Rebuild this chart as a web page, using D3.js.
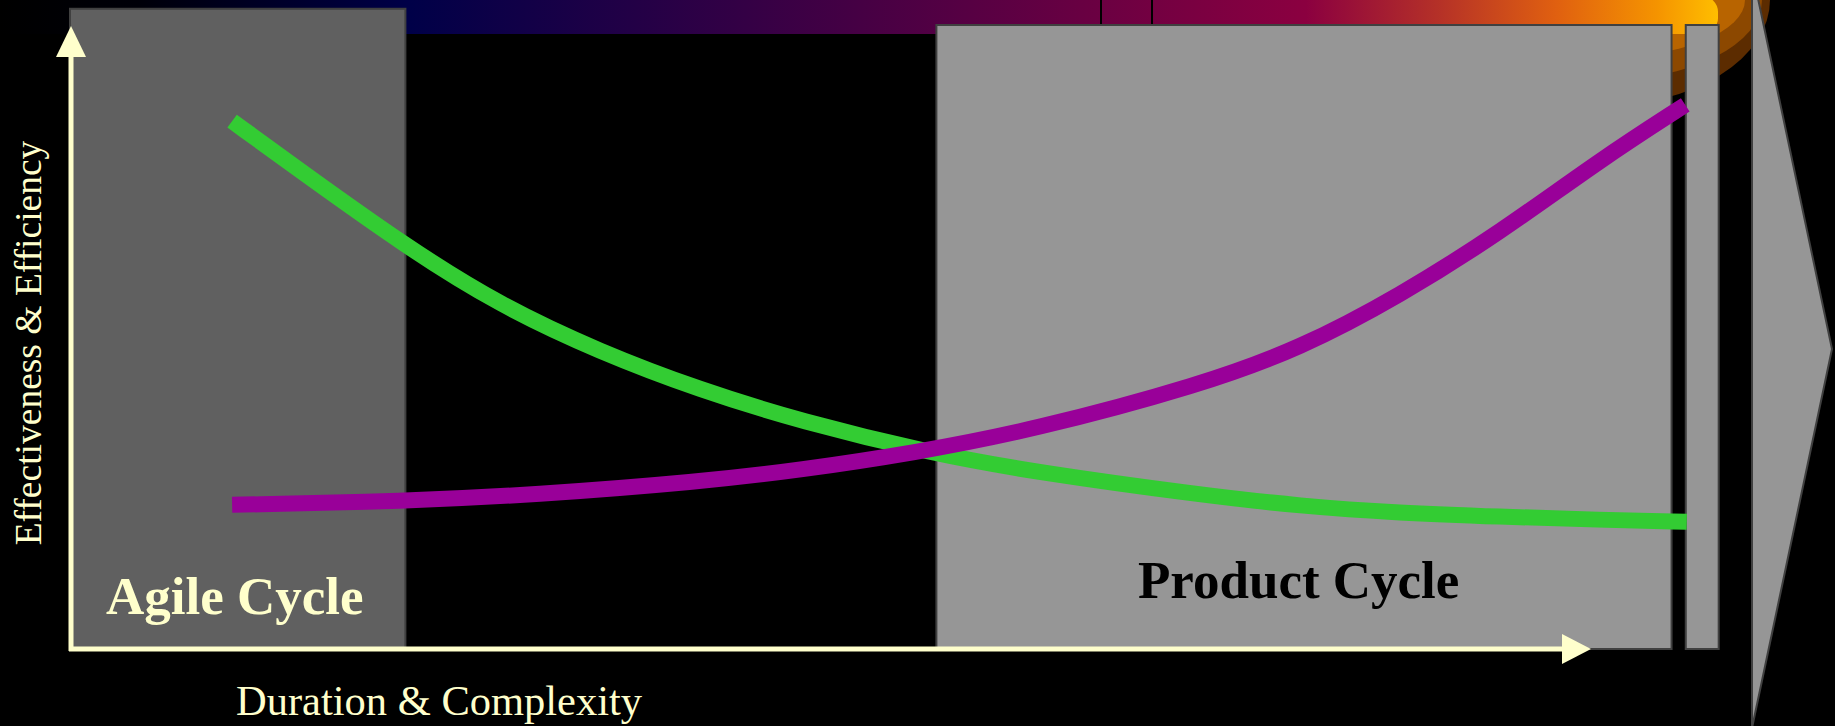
<!DOCTYPE html>
<html>
<head>
<meta charset="utf-8">
<script src="https://cdn.jsdelivr.net/npm/d3@7"></script>
<style>
  body { margin: 0; background: #000; }
  svg { display: block; }
</style>
</head>
<body>
<svg id="chart" width="1835" height="726"></svg>
<script>
// x = Duration & Complexity, y = Effectiveness & Efficiency (0..100 each)
const agileX = [10.6, 15.1, 22.1, 28.2, 34.8, 41.4, 48.0, 56.7, 63.3, 74.3, 80.9, 87.4, 94.0, 100.6, 106.3];
const agileY = [84.6, 76.6, 64.4, 55.1, 47.6, 41.5, 36.5, 31.3, 28.4, 24.7, 22.9, 21.8, 21.2, 20.7, 20.4];

const productX = [10.6, 22.1, 30.4, 41.4, 48.0, 55.4, 63.3, 74.3, 80.9, 87.4, 94.0, 100.6, 106.2];
const productY = [23.1, 23.7, 24.7, 26.8, 28.7, 31.4, 35.1, 42.3, 48.2, 56.6, 66.7, 78.4, 87.2];

// phases shown as shaded blocks
const phaseNames = ["Agile Cycle", "Product Cycle", ""];
const phaseStart = [0, 57.0, 106.3];
const phaseEnd = [22.0, 105.3, 108.4];
const phaseTop = [102.6, 100, 100];

const xTitle = "Duration & Complexity";
const yTitle = "Effectiveness & Efficiency";

function drawChart() {
    const svg = d3.select("#chart");
    const cream = "#FFFFCC";
    const serif = "'Liberation Serif', 'Times New Roman', serif";

    const scX = d3.scaleLinear().domain([0, 100]).range([71, 1591]);
    const scY = d3.scaleLinear().domain([0, 100]).range([649, 25]);

    const defs = svg.append("defs");
    const grad = defs.append("linearGradient")
        .attr("id", "barGrad")
        .attr("gradientUnits", "userSpaceOnUse")
        .attr("x1", 0).attr("x2", 1718).attr("y1", 0).attr("y2", 0);
    [[0, "#000000"], [0.08, "#000008"], [0.239, "#000048"], [0.76, "#8b0040"],
     [0.836, "#b43028"], [0.906, "#e06010"], [0.965, "#f59400"], [1, "#ffbe00"]]
        .forEach(s => grad.append("stop").attr("offset", s[0]).attr("stop-color", s[1]));

    // decorative backdrop: the disc behind the bar end
    const deco = svg.append("g");
    [["#5c2c00", 170, 106], ["#8c4800", 162, 81], ["#b86400", 145, 58]].forEach(e => {
        deco.append("ellipse")
            .attr("cx", 1600).attr("cy", 0)
            .attr("rx", e[1]).attr("ry", e[2])
            .style("fill", e[0]);
    });
    deco.append("rect")
        .attr("x", -20).attr("y", -4)
        .attr("width", 1738).attr("height", 38)
        .attr("rx", 16)
        .style("fill", "url(#barGrad)");
    [1101, 1152].forEach(x => {
        deco.append("line")
            .attr("x1", x).attr("x2", x).attr("y1", 0).attr("y2", 25)
            .style("stroke", "#000").style("stroke-width", 2);
    });

    // phase blocks
    const phases = phaseNames.map((n, i) => ({
        name: n, x0: phaseStart[i], x1: phaseEnd[i], top: phaseTop[i]
    }));
    svg.selectAll(".phase")
        .data(phases)
        .enter()
        .append("rect")
        .attr("class", "phase")
        .attr("x", d => scX(d.x0) - 1)
        .attr("y", d => scY(d.top))
        .attr("width", d => scX(d.x1) - scX(d.x0) + 1)
        .attr("height", d => scY(0) - scY(d.top))
        .style("fill", (d, i) => i === 0 ? "#606060" : "#969696")
        .style("stroke", "#404040")
        .style("stroke-width", 2);

    // big arrow on the right
    svg.append("polygon")
        .attr("points", "1752,-30 1832,349 1752,728")
        .style("fill", "#969696")
        .style("stroke", "#404040")
        .style("stroke-width", 2);

    // axes with arrow heads
    const x0 = scX(0), y0 = scY(0);
    const xEnd = scX(100), yEnd = scY(100) + 1;
    const axes = svg.append("g").style("fill", cream).style("stroke", cream);
    axes.append("line")
        .attr("x1", x0).attr("x2", x0).attr("y1", y0 + 2).attr("y2", yEnd + 28)
        .style("stroke-width", 5);
    axes.append("polygon")
        .attr("points", `${x0},${yEnd} ${x0 - 15},${yEnd + 31} ${x0 + 15},${yEnd + 31}`)
        .style("stroke", "none");
    axes.append("line")
        .attr("x1", x0 - 2).attr("x2", xEnd - 26).attr("y1", y0).attr("y2", y0)
        .style("stroke-width", 5);
    axes.append("polygon")
        .attr("points", `${xEnd},${y0} ${xEnd - 29},${y0 - 15} ${xEnd - 29},${y0 + 15}`)
        .style("stroke", "none");

    // curves
    const line = d3.line()
        .x(d => scX(d[0]))
        .y(d => scY(d[1]))
        .curve(d3.curveBasis);
    const series = [
        { pts: d3.zip(agileX, agileY), color: "#33CC33" },
        { pts: d3.zip(productX, productY), color: "#990099" }
    ];
    svg.selectAll(".curve")
        .data(series)
        .enter()
        .append("path")
        .attr("class", "curve")
        .attr("d", d => line(d.pts))
        .style("fill", "none")
        .style("stroke", d => d.color)
        .style("stroke-width", 16)
        .style("stroke-linecap", "butt");

    // texts
    svg.append("text")
        .attr("x", 106).attr("y", 614)
        .style("font-family", serif).style("font-weight", "bold")
        .style("font-size", "53px").style("fill", cream)
        .text(phaseNames[0]);
    svg.append("text")
        .attr("x", 1138).attr("y", 598)
        .style("font-family", serif).style("font-weight", "bold")
        .style("font-size", "53px").style("fill", "#000")
        .text(phaseNames[1]);
    svg.append("text")
        .attr("x", 236).attr("y", 715)
        .style("font-family", serif)
        .style("font-size", "42.5px").style("fill", cream)
        .text(xTitle);
    svg.append("text")
        .attr("transform", "translate(41,343) rotate(-90)")
        .attr("text-anchor", "middle")
        .style("font-family", serif)
        .style("font-size", "37.5px").style("fill", cream)
        .text(yTitle);
}

drawChart();
</script>
</body>
</html>
